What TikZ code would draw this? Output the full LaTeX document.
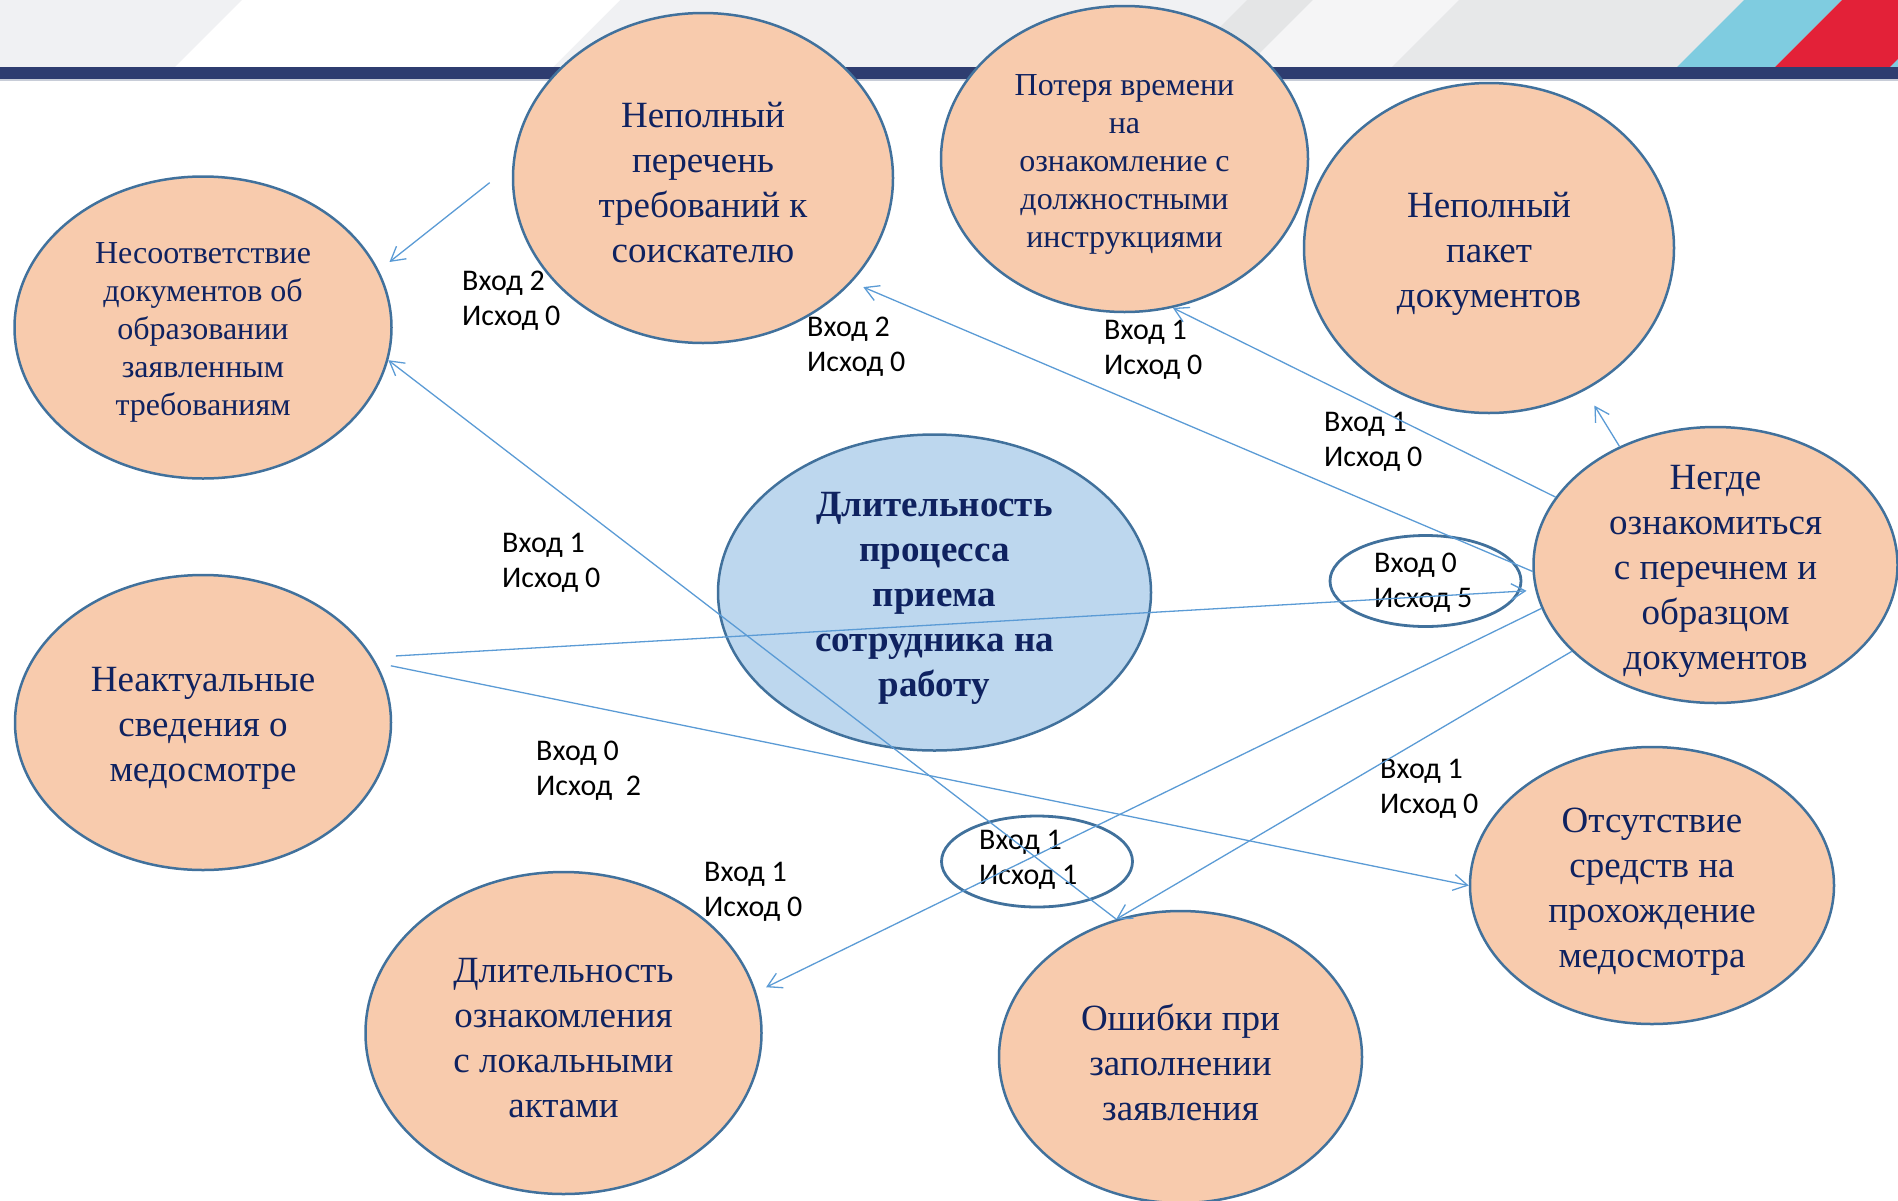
\documentclass[tikz,border=0pt]{standalone}
\usepackage{fontspec}
\setmainfont{Liberation Serif}
\newfontfamily\labfont{Carlito}
\usetikzlibrary{shapes.geometric,arrows.meta}
\definecolor{peach}{HTML}{F8CBAD}
\definecolor{paleblue}{HTML}{BDD7EE}
\definecolor{rimblue}{HTML}{41719C}
\definecolor{linkblue}{HTML}{5B9BD5}
\definecolor{navytext}{HTML}{0F2260}
\definecolor{bannergray}{HTML}{F0F1F3}
\definecolor{banddark}{HTML}{E4E5E6}
\definecolor{bandlight}{HTML}{F5F5F6}
\definecolor{bandgray}{HTML}{E7E8E9}
\definecolor{skyband}{HTML}{7FCCE0}
\definecolor{redband}{HTML}{E32138}
\definecolor{darkbar}{HTML}{2E3D70}
\definecolor{barline}{HTML}{C8CDD8}
\tikzset{
  ell/.style={ellipse, draw=rimblue, line width=2.5pt, fill=peach, inner sep=0pt},
  ringell/.style={ellipse, draw=rimblue, line width=2.8pt, inner sep=0pt, minimum width=191pt, minimum height=91pt},
  bigtxt/.style={text=navytext, align=center, inner sep=0pt, font=\fontsize{37}{45}\selectfont},
  midtxt/.style={text=navytext, align=center, inner sep=0pt, font=\fontsize{32}{38}\selectfont},
  boldtxt/.style={text=navytext, align=center, inner sep=0pt, font=\bfseries\fontsize{37}{45}\selectfont},
  lab/.style={text=black, align=left, anchor=west, inner sep=0pt, font=\labfont\fontsize{30}{35}\selectfont},
  link/.style={draw=linkblue, line width=1.3pt, -{Straight Barb[length=14pt,width=16pt]}}
}
\begin{document}
\begin{tikzpicture}[x=1pt,y=-1pt]
\useasboundingbox (0,0) rectangle (1898,1200);
\begin{scope}
\clip (0,0) rectangle (1898,1200);
% banner
\fill[bannergray] (0,0) rectangle (1898,67);
\fill[white] (242,0) -- (620,0) -- (553,67) -- (175,67) -- cycle;
\fill[banddark] (1247,0) -- (1313,0) -- (1246,67) -- (1180,67) -- cycle;
\fill[bandlight] (1313,0) -- (1459,0) -- (1392,67) -- (1246,67) -- cycle;
\fill[bandgray] (1459,0) -- (1744,0) -- (1677,67) -- (1392,67) -- cycle;
\fill[skyband] (1744,0) -- (1842,0) -- (1775,67) -- (1677,67) -- cycle;
\fill[redband] (1842,0) -- (1898,0) -- (1898,67) -- (1775,67) -- cycle;
\fill[skyband] (1890,67) -- (1898,59) -- (1898,67) -- cycle;
\fill[darkbar] (0,67) rectangle (1898,79);
\fill[barline] (0,79) rectangle (1898,81);

% ellipses
\node[ell, minimum width=380pt, minimum height=330pt] (A) at (703,178) {};
\node[ell, minimum width=367pt, minimum height=306pt] (B) at (1124.5,159) {};
\node[ell, minimum width=370pt, minimum height=330pt] (C) at (1489,248) {};
\node[ell, minimum width=377pt, minimum height=302pt] (D) at (203,327.5) {};
\node[ell, fill=paleblue, minimum width=433pt, minimum height=316pt] (E) at (934.5,592.5) {};
\node[ell, minimum width=364pt, minimum height=276pt] (F) at (1715.5,565) {};
\node[ell, minimum width=376pt, minimum height=295pt] (G) at (203,722.5) {};
\node[ell, minimum width=396pt, minimum height=322pt] (H) at (563.5,1033) {};
\node[ell, minimum width=363pt, minimum height=292pt] (I) at (1180.5,1057) {};
\node[ell, minimum width=364pt, minimum height=277pt] (J) at (1652,885.5) {};
\node[ringell] (S1) at (1425.5,581) {};
\node[ringell] (S2) at (1037,861.5) {};

% ellipse texts
\node[bigtxt] (At) at ([yshift=-5pt]A.center) {Неполный\\перечень\\требований к\\соискателю};
\node[midtxt] (Bt) at ([yshift=-5pt]B.center) {Потеря времени\\на\\ознакомление с\\должностными\\инструкциями};
\node[bigtxt] (Ct) at ([yshift=-6pt]C.center) {Неполный\\пакет\\документов};
\node[midtxt] (Dt) at ([yshift=-5pt]D.center) {Несоответствие\\документов об\\образовании\\заявленным\\требованиям};
\node[boldtxt] (Et) at ([yshift=-6pt]E.center) {Длительность\\процесса\\приема\\сотрудника на\\работу};
\node[bigtxt] (Ft) at ([yshift=-6pt]F.center) {Негде\\ознакомиться\\с перечнем и\\образцом\\документов};
\node[bigtxt] (Gt) at ([yshift=-6pt]G.center) {Неактуальные\\сведения о\\медосмотре};
\node[bigtxt] (Ht) at ([yshift=-5pt]H.center) {Длительность\\ознакомления\\с локальными\\актами};
\node[bigtxt] (It) at ([yshift=-5pt]I.center) {Ошибки при\\заполнении\\заявления};
\node[bigtxt] (Jt) at ([yshift=-6pt]J.center) {Отсутствие\\средств на\\прохождение\\медосмотра};

% labels
\node[lab] (L1) at (462,301) {Вход 2\\Исход 0};
\node[lab] (L2) at (807,347) {Вход 2\\Исход 0};
\node[lab] (L3) at (1104,350) {Вход 1\\Исход 0};
\node[lab] (L4) at (1324,442) {Вход 1\\Исход 0};
\node[lab] (L5) at (502,563) {Вход 1\\Исход 0};
\node[lab] (L6) at (1374,583) {Вход 0\\Исход 5};
\node[lab] (L7) at (536,771) {Вход 0\\Исход~~2};
\node[lab] (L8) at (704,892) {Вход 1\\Исход 0};
\node[lab] (L9) at (979,860) {Вход 1\\Исход 1};
\node[lab] (L10) at (1380,789) {Вход 1\\Исход 0};

% connectors
\draw[link, shorten <=29pt, shorten >=13.5pt] (A.176.9) -- (D.18.6);
\draw[link] (I.115.4) -- (D.350.9);
\draw[link, shorten >=12.3pt] (F.182.5) -- (A.325.15);
\draw[link] (F.157.5) -- (B.288.7);
\draw[link, shorten >=17.8pt] (F.129.9) -- (C.304);
\draw[link, shorten <=22.8pt, shorten >=8.8pt] (G.21.5) -- (F.188.3);
\draw[link, shorten <=14.8pt] (G.19.4) -- (J.180);
\draw[link, shorten >=10.9pt] (F.194.8) -- (H.12.8);
\draw[link] (F.211.5) -- (I.115.4);
\end{scope}
\end{tikzpicture}
\end{document}
